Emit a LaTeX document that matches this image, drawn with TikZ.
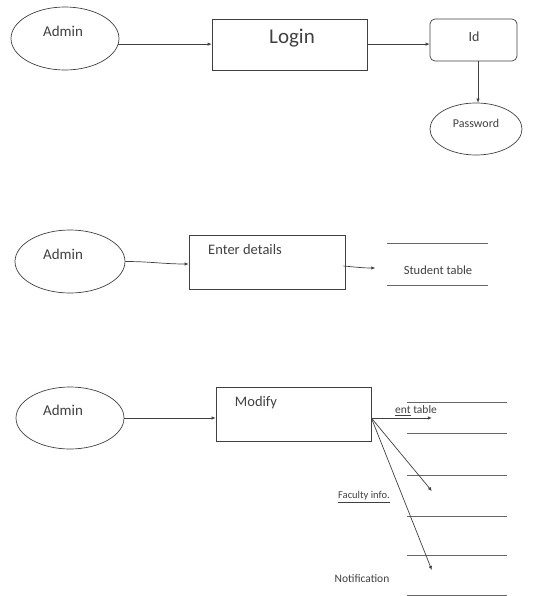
\documentclass[tikz,border=0pt]{standalone}
\usepackage{fontspec}
\setmainfont{Carlito}
\usetikzlibrary{shapes.geometric,arrows.meta,calc}
\begin{document}
\begin{tikzpicture}[x=1pt,y=-1pt,
  lw/.style={draw=black!75, line width=0.7pt},
  ent/.style={ellipse, lw, inner sep=0pt},
  proc/.style={rectangle, lw, inner sep=0pt},
  txt/.style={text=black!75, inner sep=0pt},
  arr/.style={lw, -{Latex[length=4pt,width=3.5pt]}},
  store/.style={inner sep=0pt, minimum width=100pt},
  storeline/.style={draw=black!60, line width=0.8pt}]
\useasboundingbox (0,0) rectangle (553,596);

% ---------- top: login ----------
\node[ent, minimum width=108pt, minimum height=63pt] (a1) at (65,38.5) {};
\node[txt, font=\fontsize{15}{18}\selectfont] (a1t) at (63,31) {Admin};
\node[proc, minimum width=155pt, minimum height=51pt] (login) at (289.5,44.5) {};
\node[txt, font=\fontsize{21}{24}\selectfont] (logint) at (292,38) {Login};
\node[proc, rounded corners=5pt, minimum width=87pt, minimum height=42pt] (id) at (473.5,40) {};
\node[txt, font=\fontsize{14}{16}\selectfont] (idt) at (474,37) {Id};
\node[ent, minimum width=92pt, minimum height=52pt] (pw) at (476,129) {};
\node[txt, font=\fontsize{12}{14}\selectfont] (pwt) at (476,123) {Password};

\coordinate (idb) at ($(id.south)+(4.5,0)$);
\draw[arr] (a1.-6) -- (a1.-6 -| login.west);
\draw[arr] (login.east |- a1.-6) -- (id.west |- a1.-6);
\draw[arr] (idb) -- (idb |- pw.north);

% ---------- middle: enter details ----------
\node[ent, minimum width=110pt, minimum height=63pt] (a2) at (70,261.5) {};
\node[txt, font=\fontsize{15}{18}\selectfont] (a2t) at (63,254) {Admin};
\node[proc, minimum width=156pt, minimum height=54pt] (ed) at (267,262) {};
\node[txt, font=\fontsize{14.5}{17}\selectfont] (edt) at (245,250) {Enter details};
\node[store, minimum height=41pt] (st) at (437.5,264.5) {};
\draw[storeline] (st.north west) -- (st.north east);
\draw[storeline] (st.south west) -- (st.south east);
\node[txt, font=\fontsize{12.5}{15}\selectfont] (stt) at (438,270) {Student table};

\draw[arr] (a2.east) to[out=0,in=180] ($(ed.west)+(0,2)$);
\draw[arr] ($(ed.east)+(-2,4)$) to[out=-5,in=180] ($(st.west)+(-12,3.5)$);

% ---------- bottom: modify ----------
\node[ent, minimum width=108pt, minimum height=62pt] (a3) at (70,418) {};
\node[txt, font=\fontsize{15}{18}\selectfont] (a3t) at (63,410) {Admin};
\node[proc, minimum width=155pt, minimum height=54pt] (mod) at (293.5,414) {};
\node[txt, font=\fontsize{14.5}{17}\selectfont] (modt) at (256,403) {Modify};
\coordinate (o) at ($(mod.east)+(0,4)$);

\node[store, minimum height=30pt] (s1) at (457,418) {};
\node[store, minimum height=40pt] (s2) at (457,496) {};
\node[store, minimum height=39pt] (s3) at (457,575.5) {};
\foreach \s in {s1,s2,s3}{
  \draw[storeline] (\s.north west) -- (\s.north east);
  \draw[storeline] (\s.south west) -- (\s.south east);
}

\draw[arr] (a3.east) -- (a3.east -| mod.west);
\draw[arr] (o) -- ($(s1.west)+(25,0)$);
\draw[arr] (o) -- ($(s2.west)+(25,-5)$);
\draw[arr] (o) -- ($(s3.west)+(25,-5.5)$);

\node[txt, font=\fontsize{11.5}{14}\selectfont] (s1t) at (416,411) {\underline{ent} table};
\node[txt, font=\fontsize{10.5}{12}\selectfont] (s2t) at (364,497) {\underline{Faculty info.}};
\node[txt, font=\fontsize{11.5}{14}\selectfont] (s3t) at (362,579) {Notification};
\end{tikzpicture}
\end{document}
